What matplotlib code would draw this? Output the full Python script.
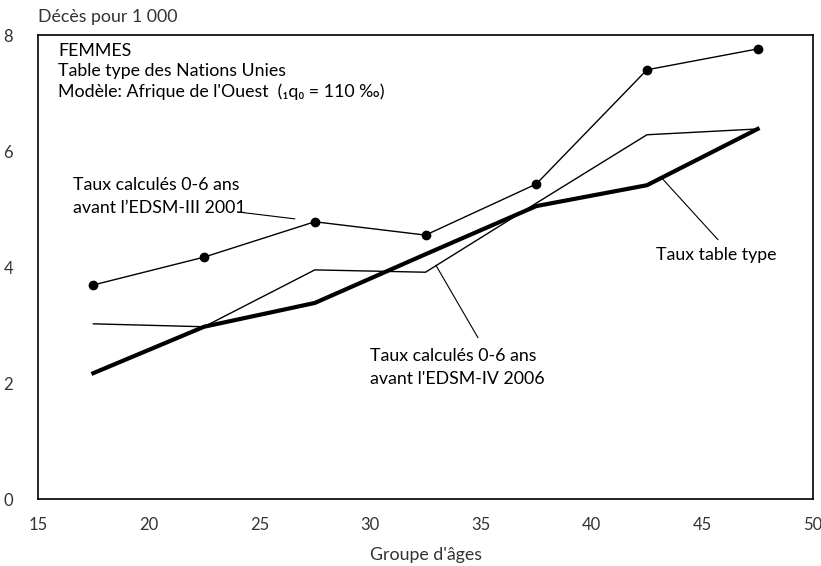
import matplotlib
matplotlib.use("Agg")
import matplotlib.pyplot as plt

plt.rcParams['font.family'] = ['Lato', 'DejaVu Sans']

ages = [17.5, 22.5, 27.5, 32.5, 37.5, 42.5, 47.5]
edsm3_2001 = [3.69, 4.17, 4.78, 4.55, 5.43, 7.40, 7.76]
edsm4_2006 = [3.02, 2.97, 3.95, 3.91, 5.10, 6.28, 6.38]
table_type = [2.17, 2.97, 3.38, 4.22, 5.05, 5.41, 6.38]

xticks = [15, 20, 25, 30, 35, 40, 45, 50]
yticks = [0, 2, 4, 6, 8]

FS = 12.8

fig = plt.figure(figsize=(8.21, 5.66), dpi=100)
ax = fig.add_axes([38/821, 1-499/566, 775/821, 464/566])

ax.plot(ages, edsm3_2001, color='black', lw=1.0, marker='o', ms=6)
ax.plot(ages, edsm4_2006, color='black', lw=1.0)
ax.plot(ages, table_type, color='black', lw=3.0)

ax.set_xlim(15, 50)
ax.set_ylim(0, 8)
ax.set_xticks(xticks)
ax.set_yticks(yticks)
ax.tick_params(length=0, labelsize=12, labelcolor='#333333')
ax.tick_params(axis='x', pad=13)
ax.tick_params(axis='y', pad=18)
for s in ax.spines.values():
    s.set_linewidth(1.2)

fig.text(38/821, 1-17/566, "Décès pour 1 000", fontsize=FS, color='#333333', va='center', ha='left')
fig.text(426/821, 1-555/566, "Groupe d'âges", fontsize=FS, color='#333333', va='center', ha='center')

ax.text(0.026, 0.982, "FEMMES\nTable type des Nations Unies\nModèle: Afrique de l'Ouest  (₁q₀ = 110 ‰)",
        transform=ax.transAxes, fontsize=FS, va='top', ha='left', linespacing=1.3)

line_kw = dict(arrowstyle='-', color='black', lw=0.8, shrinkA=0, shrinkB=0)

ax.text(16.6, 4.88, "Taux calculés 0-6 ans\navant l’EDSM-III 2001", fontsize=FS,
        ha='left', va='bottom', linespacing=1.5)
ax.annotate("", xy=(26.6, 4.83), xytext=(24.0, 4.95), arrowprops=line_kw)

ax.text(42.9, 4.21, "Taux table type", fontsize=FS, ha='left', va='center')
ax.annotate("", xy=(43.18, 5.53), xytext=(45.71, 4.47), arrowprops=line_kw)

ax.text(30.0, 2.6, "Taux calculés 0-6 ans\navant l'EDSM-IV 2006", fontsize=FS,
        ha='left', va='top', linespacing=1.5)
ax.annotate("", xy=(32.97, 4.03), xytext=(34.87, 2.78), arrowprops=line_kw)

fig.savefig("out.png", dpi=100)
